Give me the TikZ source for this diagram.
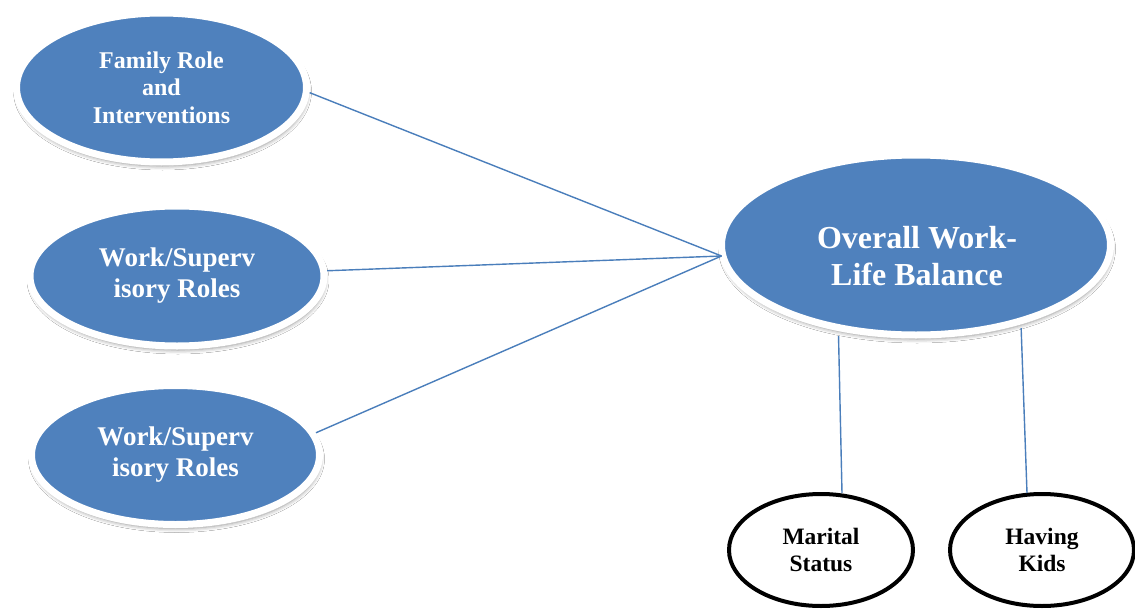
\documentclass[tikz,border=0pt]{standalone}
\usepackage{fontspec}
\setmainfont{Liberation Serif}
\usetikzlibrary{shapes.geometric,shadows.blur}
\definecolor{nodeblue}{HTML}{4F81BD}
\definecolor{linkblue}{HTML}{4A7EBB}
\tikzset{
  blueell/.style={ellipse, fill=nodeblue, draw=white, line width=7pt, inner sep=0pt,
    text=white, font=\bfseries, align=center,
    blur shadow={shadow xshift=1pt, shadow yshift=-4pt, shadow blur radius=4pt, shadow opacity=45}},
  whitetext/.style={inner sep=0pt, text=white, align=center},
  blackell/.style={ellipse, draw=black, line width=4pt, fill=white, inner sep=0pt,
    text=black, font=\bfseries, align=center, minimum width=184pt, minimum height=112pt},
  link/.style={draw=linkblue, line width=1.4pt}
}
\begin{document}
\begin{tikzpicture}[x=1pt,y=-1pt]
\useasboundingbox[fill=white] (0,0) rectangle (1135,610);
\node[blueell, minimum width=290pt, minimum height=149pt,
  font=\bfseries\fontsize{24}{27.5}\selectfont] (fam) at (161.5,87.5) {Family Role\\and\\Interventions};
\node[blueell, minimum width=294pt, minimum height=140pt,
  font=\bfseries\fontsize{27}{31}\selectfont] (wsr1) at (177,276) {Work/Superv\\isory Roles};
\node[blueell, minimum width=288pt, minimum height=139pt,
  font=\bfseries\fontsize{27}{31}\selectfont] (wsr2) at (175.5,455) {Work/Superv\\isory Roles};
\node[blueell, minimum width=389pt, minimum height=180pt] (owlb) at (916,245) {};
\node[whitetext, font=\bfseries\fontsize{32}{37}\selectfont] (owlbtext) at (917,256) {Overall Work-\\Life Balance};
\node[blackell, font=\bfseries\fontsize{23.5}{27}\selectfont] (mar) at (821,550) {Marital\\Status};
\node[blackell, font=\bfseries\fontsize{23.5}{27}\selectfont] (kids) at (1042,550) {Having\\Kids};
\coordinate (hub) at ([xshift=3.5pt,yshift=-11pt]owlb.west);
\draw[link] (fam.-2) -- (hub);
\draw[link] (wsr1.2) -- (hub);
\draw[link] (wsr2.9) -- (hub);
\draw[link] ([yshift=-5pt]owlb.228) -- ([xshift=21pt,yshift=-1pt]mar.north);
\draw[link] ([yshift=-4pt]owlb.-37) -- ([xshift=-15pt,yshift=-1pt]kids.north);
\end{tikzpicture}
\end{document}
